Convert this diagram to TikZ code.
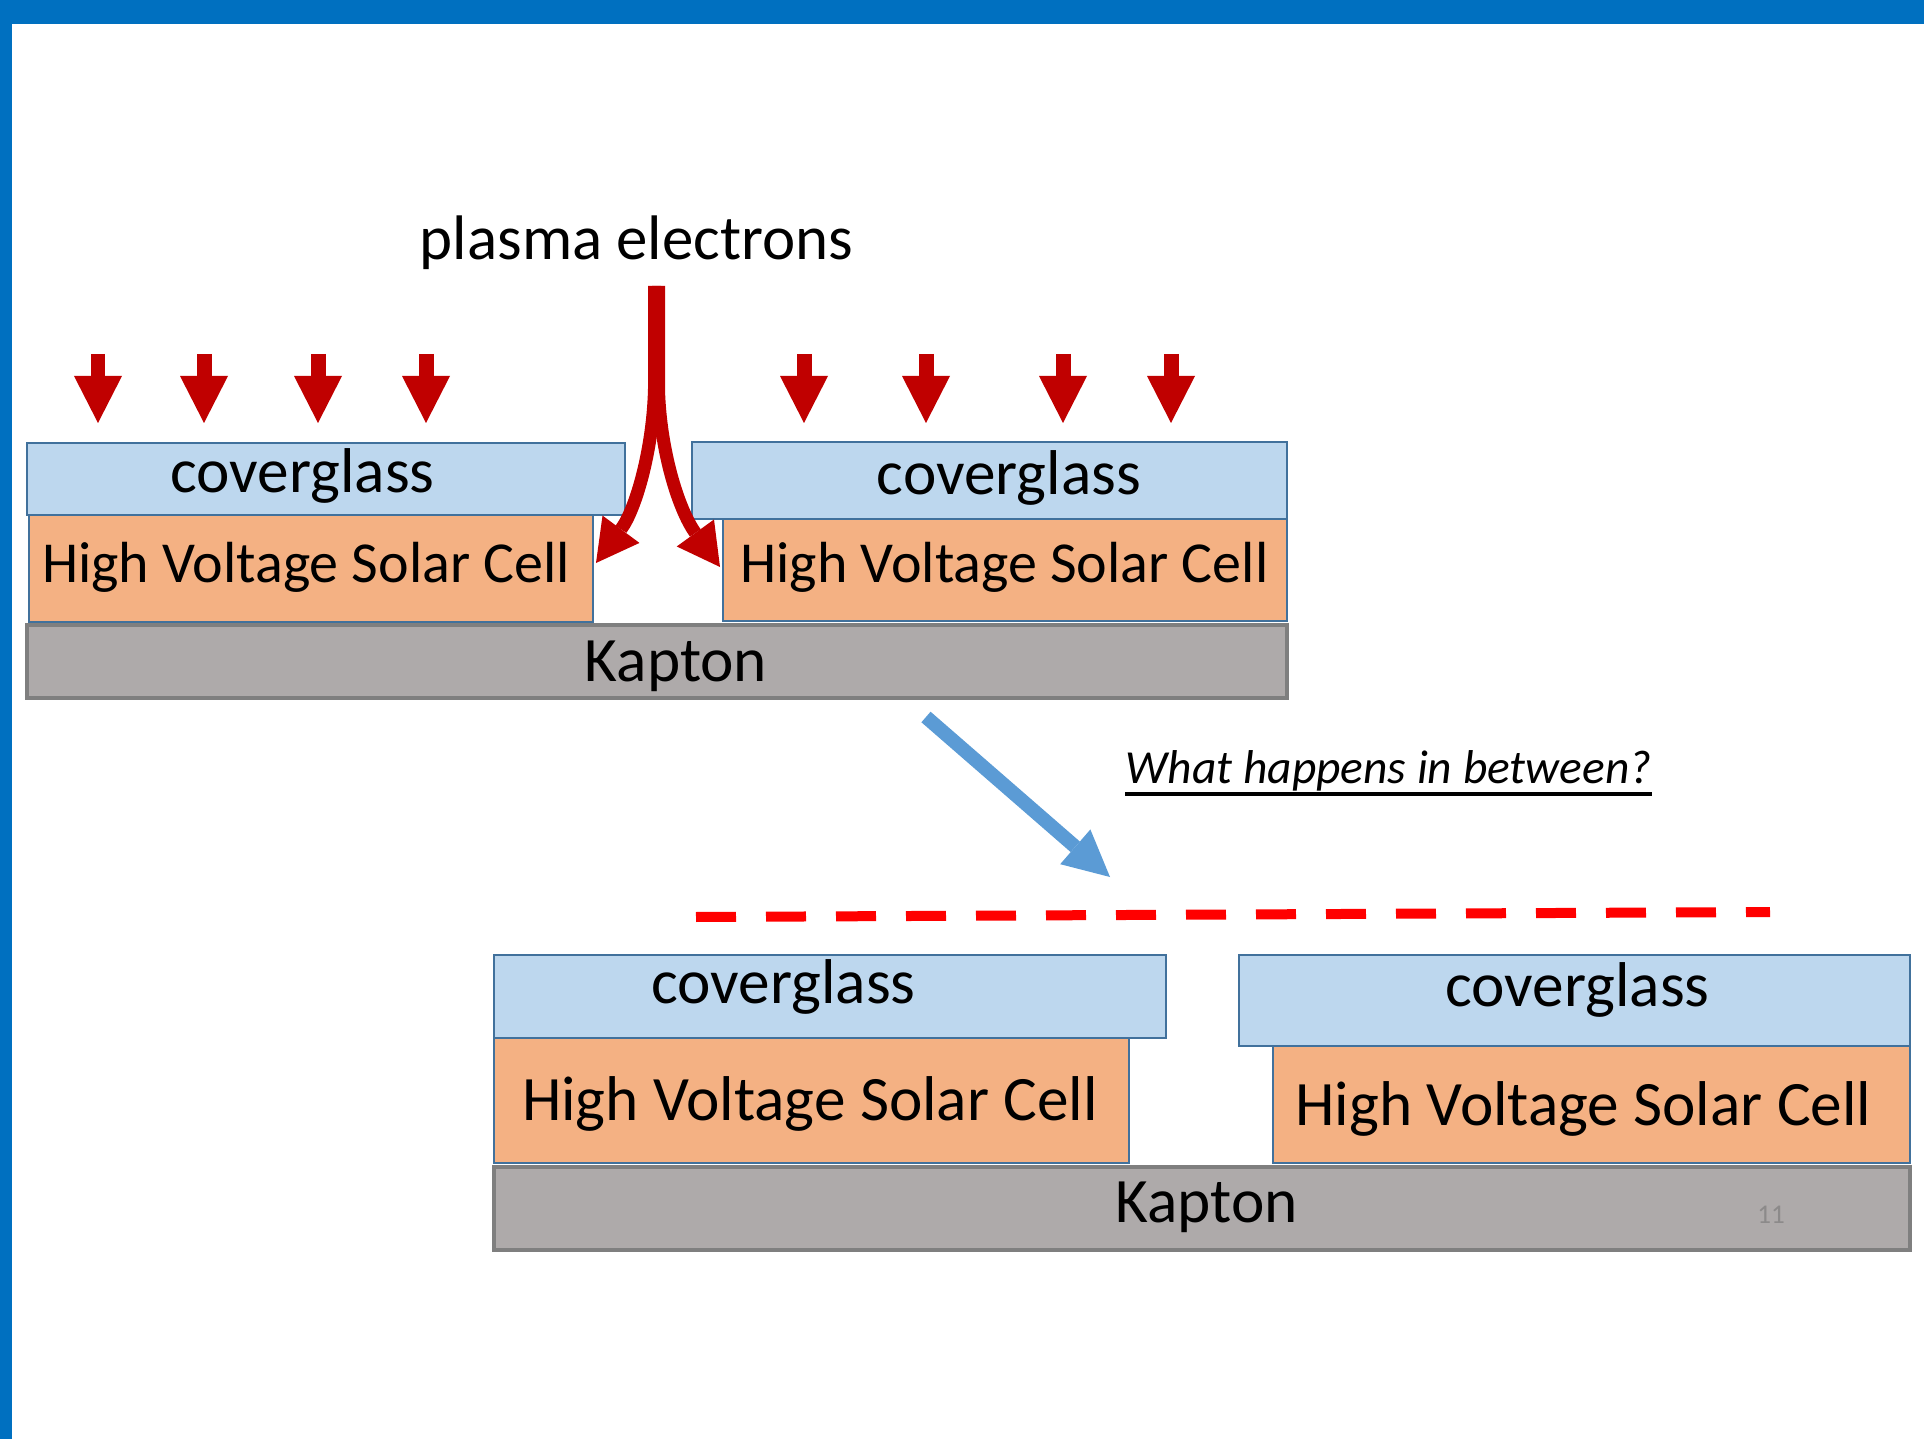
\documentclass[tikz,border=0pt]{standalone}
\usepackage{fontspec}
\setmainfont{Carlito}
\usepackage{tikz}
\usetikzlibrary{arrows.meta}
\definecolor{slideblue}{RGB}{0,112,192}
\definecolor{glassfill}{RGB}{189,215,238}
\definecolor{glassline}{RGB}{65,113,156}
\definecolor{cellfill}{RGB}{244,177,131}
\definecolor{kaptonfill}{RGB}{174,170,170}
\definecolor{kaptonline}{RGB}{127,127,127}
\definecolor{darkred}{RGB}{192,0,0}
\definecolor{flowblue}{RGB}{91,155,213}
\definecolor{pagegrey}{RGB}{140,138,138}
\tikzset{
  glass/.style={rectangle, draw=glassline, fill=glassfill, line width=0.6pt, inner sep=0pt},
  cell/.style={rectangle, draw=glassline, fill=cellfill, line width=0.6pt, inner sep=0pt},
  kapton/.style={rectangle, draw=kaptonline, fill=kaptonfill, line width=0.9pt, inner sep=0pt},
  lbl/.style={anchor=base, inner sep=0pt, font=\fontsize{18pt}{20pt}\selectfont},
  rain/.style={-{Triangle[length=4.7mm,width=4.8mm,line width=0pt]}, line width=1.5mm, draw=darkred},
  jet/.style={-{Triangle[length=4.2mm,width=4.6mm,line width=0pt]}, line width=1.3mm, draw=darkred},
  flow/.style={-{Triangle[length=4.6mm,width=4.6mm,line width=0pt]}, line width=1.4mm, draw=flowblue},
  gapline/.style={line width=1mm, draw=red, dash pattern=on 4mm off 3mm} % gap between the cells
}

\begin{document}
\begin{tikzpicture}
  \useasboundingbox (0,0) rectangle (19.24,14.39);
  % Slide frame
  \fill[slideblue] (0,14.15) rectangle (19.24,14.39);
  \fill[slideblue] (0,0) rectangle (0.12,14.39);

  % Upper stack
  \node[glass, minimum width=5.98cm, minimum height=0.72cm] (glassA) at (3.26,9.60) {};
  \node[cell, minimum width=5.64cm, minimum height=1.07cm] (cellA) at (3.11,8.705) {};
  \node[glass, minimum width=5.95cm, minimum height=0.77cm] (glassB) at (9.895,9.585) {};
  \node[cell, minimum width=5.64cm, minimum height=1.02cm] (cellB) at (10.05,8.69) {};
  \node[kapton, minimum width=12.60cm, minimum height=0.73cm] (kaptonA) at (6.57,7.775) {};

  \node[lbl] (glassAtxt) at (3.025,9.47) {coverglass};
  \node[lbl] (glassBtxt) at (10.09,9.44) {coverglass};
  \node[lbl, font=\fontsize{16.5pt}{19pt}\selectfont] (cellAtxt) at (3.06,8.56) {High Voltage Solar Cell};
  \node[lbl, font=\fontsize{16.5pt}{19pt}\selectfont] (cellBtxt) at (10.045,8.56) {High Voltage Solar Cell};
  \node[lbl] (kaptonAtxt) at (6.76,7.57) {Kapton};

  % Electrons raining on the coverglass
  \node[lbl, font=\fontsize{17.9pt}{20pt}\selectfont] (plasma) at (6.365,11.79) {plasma electrons};
  \foreach \x [count=\i] in {0.98,2.04,3.18,4.26,8.04,9.26,10.63,11.71} {
    \coordinate (drop\i) at (\x,10.85);
    \coordinate (hit\i) at (\x,10.16);
    \draw[rain] (drop\i) -- (hit\i);
  }

  % Electrons going into the gap
  \coordinate (jetL) at (6.545,11.53);
  \coordinate (jetR) at (6.585,11.53);
  \coordinate (gapL) at (5.96,8.76);
  \coordinate (gapR) at (7.20,8.72);
  \draw[jet] (jetL) -- (6.545,10.50) .. controls (6.53,9.90) and (6.36,9.30) .. (gapL);
  \draw[jet] (jetR) -- (6.585,10.50) .. controls (6.60,9.90) and (6.78,9.30) .. (gapR);

  % Zoom into the gap
  \coordinate (flowstart) at (9.26,7.22);
  \coordinate (flowend) at (11.10,5.62);
  \draw[flow] (flowstart) -- (flowend);
  \node[anchor=base west, inner sep=0pt, font=\fontsize{13.5pt}{16pt}\selectfont\itshape] (question) at (11.25,6.56) {What happens in between?};
  \draw[line width=0.9pt] ([yshift=-0.11cm]question.base west) -- ([yshift=-0.11cm]question.base east);

  \coordinate (gapstart) at (6.96,5.22);
  \coordinate (gapend) at (17.70,5.27);
  \draw[gapline] (gapstart) -- (gapend);

  % Lower stack
  \node[glass, minimum width=6.72cm, minimum height=0.83cm] (glassC) at (8.30,4.425) {};
  \node[cell, minimum width=6.35cm, minimum height=1.25cm] (cellC) at (8.115,3.385) {};
  \node[glass, minimum width=6.71cm, minimum height=0.91cm] (glassD) at (15.745,4.385) {};
  \node[cell, minimum width=6.37cm, minimum height=1.17cm] (cellD) at (15.915,3.345) {};
  \node[kapton, minimum width=14.16cm, minimum height=0.83cm] (kaptonB) at (12.02,2.305) {};

  \node[lbl] (glassCtxt) at (7.835,4.36) {coverglass};
  \node[lbl] (glassDtxt) at (15.775,4.33) {coverglass};
  \node[lbl] (cellCtxt) at (8.10,3.19) {High Voltage Solar Cell};
  \node[lbl] (cellDtxt) at (15.835,3.14) {High Voltage Solar Cell};
  \node[lbl] (kaptonBtxt) at (12.065,2.17) {Kapton};
  \node[font=\fontsize{7.7pt}{9pt}\selectfont, text=pagegrey] (pagenum) at (17.71,2.24) {11};
\end{tikzpicture}
\end{document}
